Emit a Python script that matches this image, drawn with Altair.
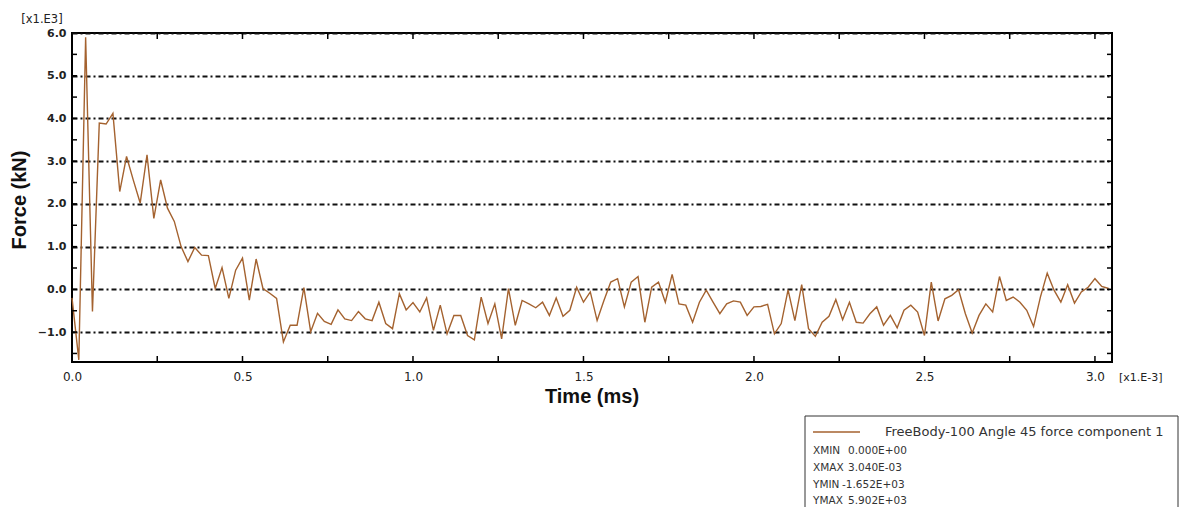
import altair as alt
import pandas as pd

# ---- data (force in units of 1e3, time in ms) ----
FORCE = [
    -0.20, -1.652, 5.902, -0.52, 3.89, 3.87, 4.12, 2.29, 3.11, 2.55,
    2.02, 3.15, 1.66, 2.56, 1.90, 1.59, 1.00, 0.65, 0.98, 0.80,
    0.79, 0.02, 0.51, -0.21, 0.45, 0.73, -0.25, 0.71, 0.02, -0.09,
    -0.21, -1.23, -0.84, -0.84, 0.04, -0.99, -0.56, -0.75, -0.82, -0.48,
    -0.69, -0.73, -0.52, -0.69, -0.73, -0.30, -0.80, -0.92, -0.10, -0.48,
    -0.31, -0.53, -0.20, -0.96, -0.37, -1.04, -0.61, -0.61, -1.08, -1.18,
    -0.18, -0.80, -0.34, -1.16, 0.02, -0.84, -0.26, -0.34, -0.43, -0.30,
    -0.61, -0.20, -0.63, -0.49, 0.05, -0.30, -0.06, -0.73, -0.26, 0.17,
    0.25, -0.41, 0.17, 0.30, -0.77, 0.05, 0.17, -0.30, 0.35, -0.34,
    -0.37, -0.77, -0.30, -0.02, -0.30, -0.57, -0.34, -0.27, -0.30, -0.61,
    -0.41, -0.40, -0.35, -1.04, -0.80, -0.01, -0.73, 0.11, -0.92, -1.10,
    -0.77, -0.63, -0.24, -0.71, -0.30, -0.77, -0.79, -0.57, -0.41, -0.84,
    -0.61, -0.90, -0.49, -0.37, -0.53, -1.08, 0.17, -0.74, -0.22, -0.14,
    -0.01, -0.57, -1.02, -0.61, -0.34, -0.53, 0.30, -0.26, -0.18, -0.30,
    -0.49, -0.87, -0.18, 0.38, -0.02, -0.30, 0.11, -0.32, -0.06, 0.05,
    0.25, 0.07, 0.02,
]
DT = 0.02  # sampling interval (ms)
TIME = [round(k * DT, 2) for k in range(len(FORCE))]

X_LABELS = [0.0, 0.5, 1.0, 1.5, 2.0, 2.5, 3.0]
Y_LABELS = [-1.0, 0.0, 1.0, 2.0, 3.0, 4.0, 5.0, 6.0]
X_TICKS = [0.25, 0.5, 0.75, 1.0, 1.25, 1.5, 1.75, 2.0, 2.25, 2.5, 2.75, 3.0]
Y_TICKS = [-1.5, -1.0, -0.5, 0.0, 0.5, 1.0, 1.5, 2.0, 2.5, 3.0, 3.5,
           4.0, 4.5, 5.0, 5.5]

SERIES_NAME = "FreeBody-100 Angle 45 force component 1"
STAT_NAMES = ["XMIN", "XMAX", "YMIN", "YMAX"]
STAT_VALUES = ["0.000E+00", "3.040E-03", "-1.652E+03", "5.902E+03"]

Y_TITLE = "Force (kN)"
X_TITLE = "Time (ms)"
Y_MULT = "[x1.E3]"
X_MULT = "[x1.E-3]"

# ---- styling ----
W, H = 1040, 329
LINE_COLOR = "#a4622f"
FONT = "DejaVu Sans"
TITLE_FONT = "Liberation Sans"

xs = alt.Scale(domain=[0, 3.05], nice=False, zero=False)
ys = alt.Scale(domain=[-1.7, 6.0], nice=False, zero=False)

X_AXIS = alt.Axis(
    values=X_LABELS, format=".1f", title=None, ticks=False, tickSize=0,
    domain=False, grid=False, labelFlush=False, labelFont=FONT,
    labelFontSize=12, labelColor="#222", labelPadding=9)
Y_AXIS = alt.Axis(
    values=Y_LABELS, format=".1f", title=None, ticks=False, tickSize=0,
    domain=False, grid=True, gridDash=[5, 3, 2, 3], gridColor="#111",
    gridWidth=2, gridOpacity=1, labelFont=FONT, labelFontSize=11,
    labelFontWeight="bold", labelColor="#222", labelPadding=6)

df = pd.DataFrame({"t": TIME, "f": FORCE})

line = alt.Chart(df).mark_line(color=LINE_COLOR, strokeWidth=1.4).encode(
    x=alt.X("t:Q", scale=xs, axis=X_AXIS),
    y=alt.Y("f:Q", scale=ys, axis=Y_AXIS),
)

xt = pd.DataFrame({"t": X_TICKS})
yt = pd.DataFrame({"f": Y_TICKS})
tick_style = dict(color="black", strokeWidth=1.5)

bottom_ticks = alt.Chart(xt).mark_rule(**tick_style).encode(
    x=alt.X("t:Q", scale=xs, axis=X_AXIS), y=alt.value(H), y2=alt.value(H - 6))
top_ticks = alt.Chart(xt).mark_rule(**tick_style).encode(
    x=alt.X("t:Q", scale=xs, axis=X_AXIS), y=alt.value(0), y2=alt.value(6))
left_ticks = alt.Chart(yt).mark_rule(**tick_style).encode(
    y=alt.Y("f:Q", scale=ys, axis=Y_AXIS), x=alt.value(0), x2=alt.value(5))
right_ticks = alt.Chart(yt).mark_rule(**tick_style).encode(
    y=alt.Y("f:Q", scale=ys, axis=Y_AXIS), x=alt.value(W), x2=alt.value(W - 5))

def text_layer(txt, x, y, **kw):
    return alt.Chart(pd.DataFrame({"label": [txt]})).mark_text(**kw).encode(
        text="label:N", x=alt.value(x), y=alt.value(y))

y_title = text_layer(Y_TITLE, -52, 167, angle=270, font=TITLE_FONT, fontSize=20,
                     fontWeight="bold", align="center", baseline="middle",
                     color="#111")
x_title = text_layer(X_TITLE, 520, 364, font=TITLE_FONT, fontSize=20,
                     fontWeight="bold", align="center", baseline="middle",
                     color="#111")
y_mult = text_layer(Y_MULT, -30, -13, font=FONT, fontSize=11.5, align="center",
                    baseline="middle", color="#222")
x_mult = text_layer(X_MULT, 1047, 345, font=FONT, fontSize=11, align="left",
                    baseline="middle", color="#222")

# legend box
box = alt.Chart(pd.DataFrame({"k": [0]})).mark_rect(
    fill="white", stroke="#333", strokeWidth=1).encode(
    x=alt.value(733), x2=alt.value(1106), y=alt.value(383), y2=alt.value(520))
sample = alt.Chart(pd.DataFrame({"k": [0]})).mark_rule(
    color=LINE_COLOR, strokeWidth=1.5).encode(
    x=alt.value(741), x2=alt.value(788), y=alt.value(399))
series_lbl = text_layer(SERIES_NAME, 813, 399, font=FONT, fontSize=13,
                        align="left", baseline="middle", color="#333")

stat_layers = []
rows_y = [418, 435, 452, 468]
for name, val, yy in zip(STAT_NAMES, STAT_VALUES, rows_y):
    vx = 770 if val.startswith("-") else 776
    stat_layers.append(text_layer(name, 741, yy, font=FONT, fontSize=10.5,
                                  align="left", baseline="middle", color="#333"))
    stat_layers.append(text_layer(val, vx, yy, font=FONT, fontSize=10.5,
                                  align="left", baseline="middle", color="#333"))

chart = alt.layer(
    line, bottom_ticks, top_ticks, left_ticks, right_ticks,
    y_title, x_title, y_mult, x_mult, box, sample, series_lbl, *stat_layers
).properties(
    width=W, height=H,
    autosize=alt.AutoSizeParams(type="none"),
    padding={"left": 64, "top": 25, "right": 70, "bottom": 145},
    background="white",
).configure_view(stroke="black", strokeWidth=2)

chart.save("out.html", embed_options={"renderer": "svg", "actions": False})
